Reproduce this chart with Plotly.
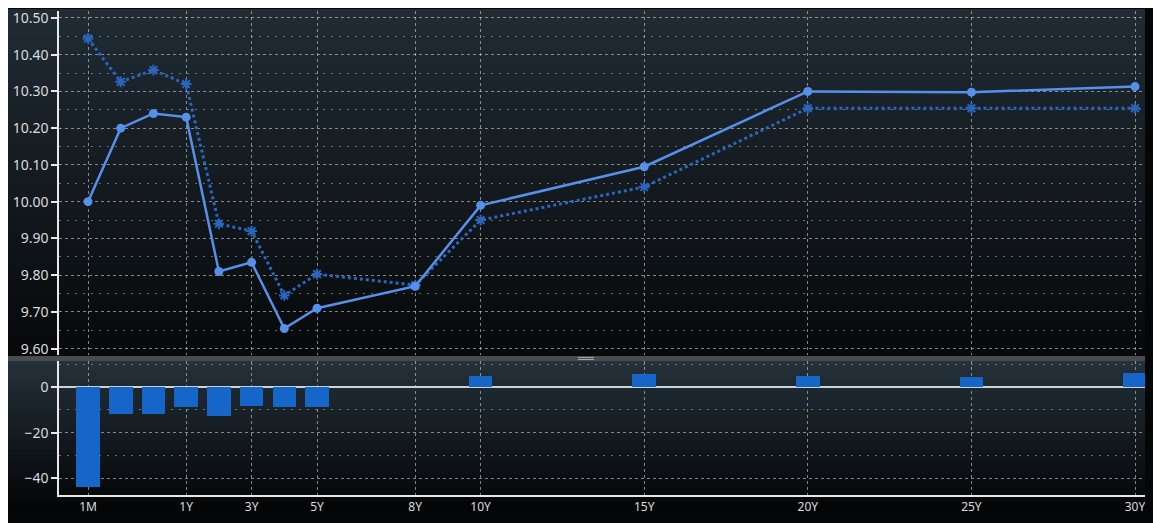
import plotly.graph_objects as go

# ---------------- data ----------------
tenors = ["1M", "3M", "6M", "1Y", "2Y", "3Y", "4Y", "5Y", "8Y", "10Y", "15Y", "20Y", "25Y", "30Y"]
tenor_x = [-2, -1, 0, 1, 2, 3, 4, 5, 8, 10, 15, 20, 25, 30]   # axis coordinate of each tenor
current = [10.00, 10.20, 10.24, 10.23, 9.81, 9.835, 9.655, 9.71, 9.77, 9.99, 10.095, 10.30, 10.298, 10.313]
previous = [10.444, 10.326, 10.358, 10.32, 9.94, 9.92, 9.745, 9.803, 9.773, 9.95, 10.04, 10.254, 10.254, 10.254]
change_bp = [-44, -12, -12, -9, -13, -8.5, -9, -9, 0, 4.5, 5.5, 4.5, 4.2, 5.8]

tick_vals = [-2, 1, 3, 5, 8, 10, 15, 20, 25, 30]
tick_text = ["1M", "1Y", "3Y", "5Y", "8Y", "10Y", "15Y", "20Y", "25Y", "30Y"]

# ---------------- layout geometry ----------------
# the figure sits at page offset (8, 8); page size 8+1137+8 x 8+507+8 = 1153 x 523 fits the window
W, H = 1137, 507
ML, MR, MT = 51, 0, 0


def fy(page_y):
    return page_y - 8


PLOT_BOTTOM = fy(501)
MB = H - PLOT_BOTTOM
PW, PH = W - ML - MR, H - MT - MB


def px_x(px):
    return (px - ML) / PW


def px_y(py):
    return (H - MB - py) / PH


top_bot = fy(358)
bot_top = fy(365)
top_dom = [px_y(top_bot), 1.0]
bot_dom = [0.0, px_y(bot_top)]

# top axis range from label positions (10.50 at 15, 9.60 at 352)
y50, y60 = fy(15), fy(352)
u = (y60 - y50) / 0.9
top_range = [9.60 - (top_bot - y60) / u, 10.50 + (y50 - MT) / u]
# bottom axis range (0 at 391, -40 at 484)
z0, z40 = fy(391), fy(484)
v = (z40 - z0) / 40
bot_range = [-(PLOT_BOTTOM - z0) / v, (z0 - bot_top) / v]

# x range: 1M at page x 88, 30Y at page x 1135
ux = (1135 - 88) / 32
x_left = -2 - (fy(88) - ML) / ux
x_right = 30 + (ML + PW - fy(1135)) / ux
xrange = [x_left, x_right]

font_y = dict(family="Noto Sans, DejaVu Sans, sans-serif", size=14, color="#dcdcdc")
font_x = dict(family="Noto Sans, DejaVu Sans, sans-serif", size=12, color="#dcdcdc")
grid_col = "rgba(210,210,210,0.6)"

fig = go.Figure()

fig.add_trace(go.Scatter(
    x=tenor_x, y=previous, mode="lines+markers", xaxis="x", yaxis="y",
    line=dict(color="#2a66bd", width=3, dash="dot"),
    marker=dict(symbol="asterisk-open", size=9, line=dict(color="#3a7ad6", width=2)),
    hoverinfo="skip", showlegend=False))
fig.add_trace(go.Scatter(
    x=tenor_x, y=current, mode="lines+markers", xaxis="x", yaxis="y",
    line=dict(color="#5690ea", width=2.5),
    marker=dict(symbol="circle", size=9, color="#5690ea"),
    hoverinfo="skip", showlegend=False))
fig.add_trace(go.Bar(
    x=tenor_x, y=change_bp, xaxis="x2", yaxis="y2", width=0.72,
    marker=dict(color="#1666c9", line=dict(width=0)),
    hoverinfo="skip", showlegend=False))

# ---------------- gradient background ----------------
shapes = []


def lerp(c1, c2, t):
    return "rgb(%d,%d,%d)" % tuple(round(a + (b - a) * t) for a, b in zip(c1, c2))


def gradient(y_top, y_bot, c_top, c_bot, n):
    step = (y_bot - y_top) / n
    for i in range(n):
        t = i / (n - 1)
        y0 = y_top + i * step
        y1 = y0 + step + 0.6
        shapes.append(dict(type="rect", xref="paper", yref="paper", layer="below",
                           x0=px_x(-2), x1=px_x(W + 2), y0=px_y(y1), y1=px_y(y0),
                           fillcolor=lerp(c_top, c_bot, t), line=dict(width=0)))


gradient(-2, fy(361), (32, 43, 52), (7, 9, 11), 40)
gradient(fy(363), H + 2, (36, 48, 58), (4, 5, 6), 30)

# separator band and handle
shapes.append(dict(type="rect", xref="paper", yref="paper", layer="below",
                   x0=px_x(-2), x1=px_x(W + 2), y0=px_y(fy(364.5)), y1=px_y(fy(359.5)),
                   fillcolor="#4a4d50", line=dict(width=0)))
for yy in (361, 363):
    shapes.append(dict(type="line", xref="paper", yref="paper", layer="above",
                       x0=px_x(fy(578)), x1=px_x(fy(594)), y0=px_y(fy(yy)), y1=px_y(fy(yy)),
                       line=dict(color="#a8a8a8", width=1)))

fig.update_layout(
    width=W, height=H,
    margin=dict(l=ML, r=MR, t=MT, b=MB, pad=0),
    paper_bgcolor="#050607", plot_bgcolor="rgba(0,0,0,0)",
    font=font_x, shapes=shapes, bargap=0,
    xaxis=dict(domain=[0, 1], range=xrange, anchor="y", tickvals=tick_vals, ticktext=tick_text,
               showticklabels=False, ticks="", showgrid=True, gridcolor=grid_col, griddash="dot",
               gridwidth=1, zeroline=False, showline=False),
    yaxis=dict(domain=top_dom, range=top_range, anchor="x", dtick=0.1, tick0=9.6,
               tickformat=".2f", ticks="outside", ticklen=6, tickwidth=2, tickcolor="#e8e8e8",
               ticklabeloverflow="allow",
               showgrid=True, gridcolor=grid_col, griddash="dot", gridwidth=1,
               minor=dict(dtick=0.05, showgrid=True, gridcolor="rgba(210,210,210,0.45)",
                          griddash="2px,6px", ticks=""),
               zeroline=False, showline=True, linecolor="#e8e8e8", linewidth=1.5,
               tickfont=font_y),
    xaxis2=dict(domain=[0, 1], range=xrange, anchor="y2", tickvals=tick_vals, ticktext=tick_text,
                ticks="", ticklabeloverflow="allow",
                showgrid=True, gridcolor=grid_col, griddash="dot", gridwidth=1,
                zeroline=False, showline=True, linecolor="#e8e8e8", linewidth=1.5,
                tickfont=font_x),
    yaxis2=dict(domain=bot_dom, range=bot_range, anchor="x2", tickvals=[-40, -20, 0],
                ticks="outside", ticklen=6, tickwidth=2, tickcolor="#e8e8e8",
                ticklabeloverflow="allow",
                showgrid=True, gridcolor=grid_col, griddash="dot", gridwidth=1,
                minor=dict(tickvals=[-30, -10, 10], showgrid=True,
                           gridcolor="rgba(210,210,210,0.45)", griddash="2px,6px", ticks=""),
                zeroline=True, zerolinecolor="#c9d2d9", zerolinewidth=2,
                showline=True, linecolor="#e8e8e8", linewidth=1.5, tickfont=font_y),
)

# cosmetic only: continue the dark background into the right and bottom page margins
# (strips stay inside the window so the page never overflows)
page_fix = ("function strip(css){var s=document.createElement('div');"
            "s.style.cssText='position:fixed;background:#050607;pointer-events:none;'+css;"
            "document.body.appendChild(s);}"
            "strip('left:8px;top:515px;width:1145px;height:8px');"
            "strip('left:1145px;top:8px;width:8px;height:515px');")

fig.write_html("out.html", post_script=page_fix)
